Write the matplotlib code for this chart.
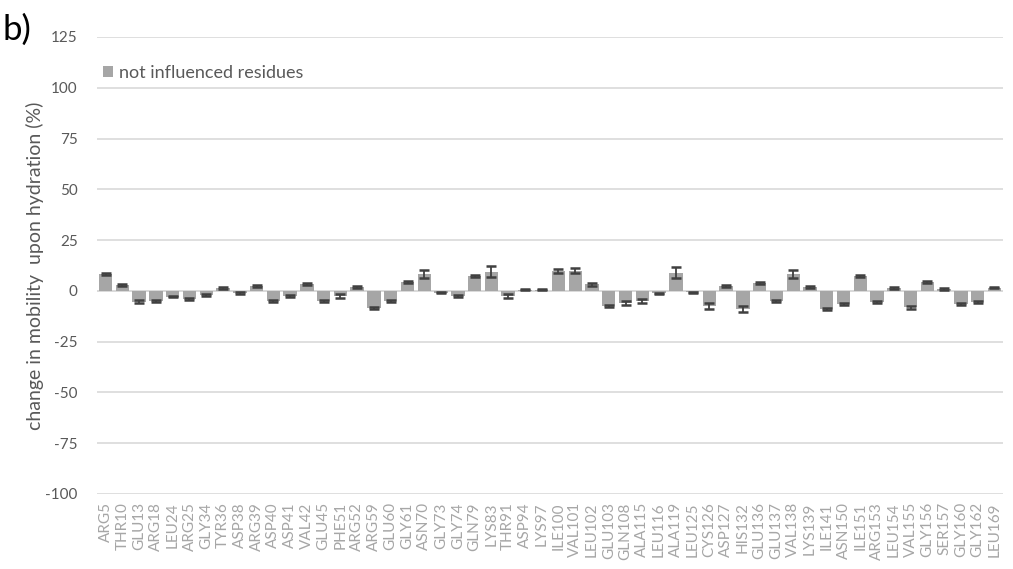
import numpy as np
import matplotlib.pyplot as plt

plt.rcParams['font.family'] = ['Lato', 'DejaVu Sans']
plt.rcParams['axes.unicode_minus'] = False

# residues and mean change in mobility (%) with error
residues = ['ARG5', 'THR10', 'GLU13', 'ARG18', 'LEU24', 'ARG25', 'GLY34', 'TYR36',
            'ASP38', 'ARG39', 'ASP40', 'ASP41', 'VAL42', 'GLU45', 'PHE51', 'ARG52',
            'ARG59', 'GLU60', 'GLY61', 'ASN70', 'GLY73', 'GLY74', 'GLN79', 'LYS83',
            'THR91', 'ASP94', 'LYS97', 'ILE100', 'VAL101', 'LEU102', 'GLU103', 'GLN108',
            'ALA115', 'LEU116', 'ALA119', 'LEU125', 'CYS126', 'ASP127', 'HIS132', 'GLU136',
            'GLU137', 'VAL138', 'LYS139', 'ILE141', 'ASN150', 'ILE151', 'ARG153', 'LEU154',
            'VAL155', 'GLY156', 'SER157', 'GLY160', 'GLY162', 'LEU169']
change = [8.2, 3.0, -5.3, -5.0, -2.8, -4.0, -2.0, 1.3,
          -1.0, 2.3, -4.8, -2.5, 3.3, -5.0, -2.5, 1.8,
          -8.3, -5.2, 4.3, 8.2, -1.0, -2.5, 7.3, 9.3,
          -2.5, 0.5, 0.5, 9.6, 9.8, 3.2, -7.3, -6.0,
          -5.0, -1.3, 9.0, -0.8, -7.5, 2.3, -9.0, 4.0,
          -4.8, 8.3, 2.0, -8.8, -6.3, 7.3, -5.6, 1.4,
          -8.2, 4.3, 0.9, -6.7, -5.7, 1.6]
err = [0.5, 0.5, 0.6, 0.5, 0.4, 0.5, 0.4, 0.4,
       0.4, 0.5, 0.5, 0.4, 0.5, 0.5, 1.1, 0.4,
       0.5, 0.5, 0.5, 2.0, 0.3, 0.4, 0.6, 2.7,
       1.0, 0.2, 0.2, 0.9, 1.2, 0.6, 0.5, 1.2,
       1.0, 0.4, 2.9, 0.3, 1.4, 0.5, 1.5, 0.5,
       0.5, 2.0, 0.4, 0.5, 0.5, 0.6, 0.5, 0.3,
       0.6, 0.6, 0.3, 0.5, 0.5, 0.4]

fig = plt.figure(figsize=(10.13, 5.69), dpi=100)
ax = fig.add_axes([0.096, 0.132, 0.894, 0.803])

x = np.arange(len(residues))
ax.bar(x, change, width=0.8, color='#a6a6a6', zorder=3, label='not influenced residues')
ax.errorbar(x, change, yerr=err, fmt='none', ecolor='#404040', elinewidth=1.3,
            capsize=3.5, capthick=1.8, zorder=4)

# gridlines and zero axis
ax.set_ylim(-100, 125)
ax.set_yticks(np.arange(-100, 126, 25))
ax.yaxis.grid(True, color='#d9d9d9', linewidth=1.2, zorder=0)
ax.axhline(0, color='#d9d9d9', linewidth=1.2, zorder=2)
ax.set_xlim(-0.5, len(residues) - 0.5)
for s in ax.spines.values():
    s.set_visible(False)

ax.set_xticks(x)
ax.set_xticklabels(residues, rotation=90, fontsize=11, color='#a6a6a6')
ax.tick_params(axis='both', length=0, pad=6)
ax.tick_params(axis='y', labelsize=11, labelcolor='#595959', pad=14)

ax.set_ylabel('change in mobility  upon hydration (%)', fontsize=14, color='#595959', labelpad=1)

ax.legend(loc='upper left', bbox_to_anchor=(-0.012, 0.975), frameon=False, fontsize=13,
          handlelength=0.6, handleheight=0.6, handletextpad=0.3, labelcolor='#595959')

fig.text(0.002, 0.93, 'b)', fontsize=25, color='black')

fig.savefig('out.png', dpi=100)
